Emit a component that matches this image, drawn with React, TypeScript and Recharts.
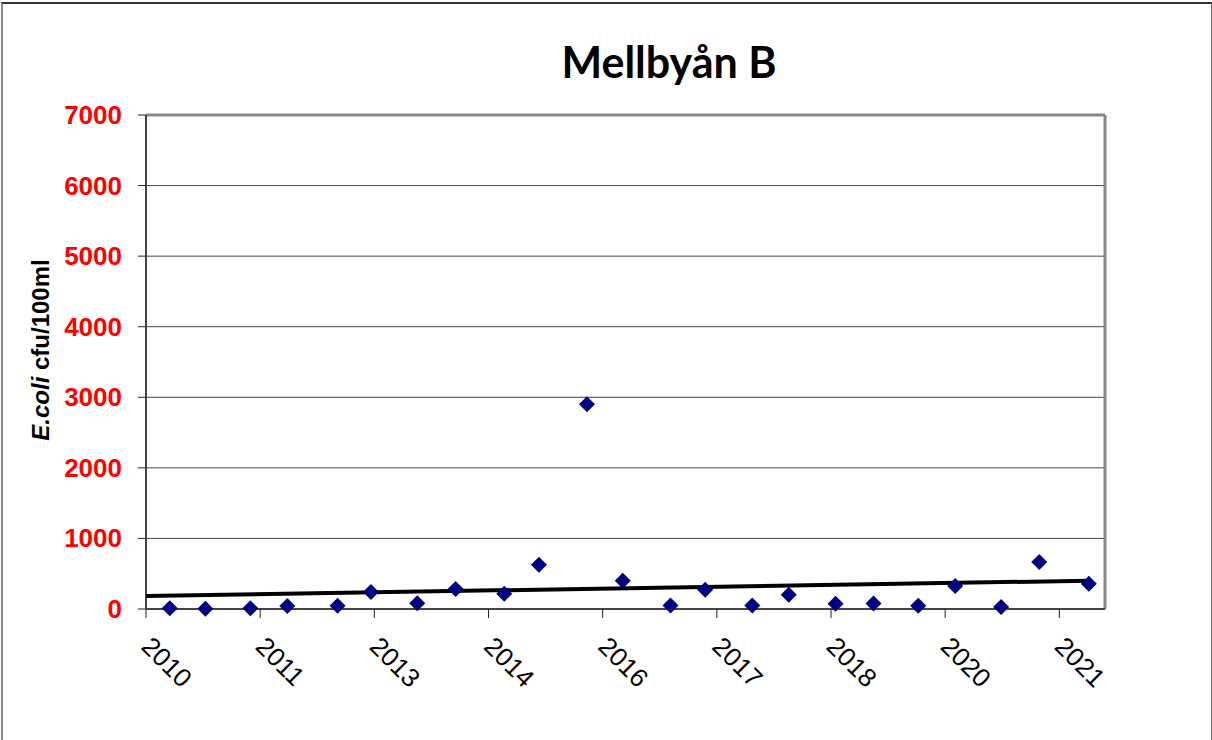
import React from 'react';
import { ScatterChart, Scatter, XAxis, YAxis, CartesianGrid, ReferenceLine } from 'recharts';

// days since start of axis (axis ticks every 500 days)
const sampleDays = [104, 260, 457, 619, 839, 985, 1188, 1356, 1569, 1721, 1931, 2088, 2297, 2449, 2655, 2815, 3020, 3186, 3382, 3544, 3745, 3912, 4129];
const ecoliValues = [10, 3, 10, 42, 47, 240, 80, 283, 217, 627, 2900, 401, 51, 273, 51, 203, 75, 79, 47, 326, 28, 666, 358];

const xTicks = [0, 500, 1000, 1500, 2000, 2500, 3000, 3500, 4000];
const xTickLabels = ['2010', '2011', '2013', '2014', '2016', '2017', '2018', '2020', '2021'];
const yTicks = [0, 1000, 2000, 3000, 4000, 5000, 6000, 7000];

// trendline end points as drawn in the original
const trendDays = [0, 4129];
const trendValues = [184, 401];

const points = sampleDays.map((d, i) => ({ x: d, y: ecoliValues[i] }));
const trend = trendDays.map((d, i) => ({ x: d, y: trendValues[i] }));

const Diamond = (props: any) => {
  const { cx, cy } = props;
  const r = 8;
  return (
    <polygon
      points={`${cx},${cy - r} ${cx + r},${cy} ${cx},${cy + r} ${cx - r},${cy}`}
      fill="#000080"
    />
  );
};

const XTick = (props: any) => {
  const { x, y, payload } = props;
  const idx = xTicks.indexOf(payload.value);
  const bx = x - 6;
  const by = y + 28;
  return (
    <text
      x={bx}
      y={by}
      transform={`rotate(45, ${bx}, ${by})`}
      textAnchor="start"
      fontFamily="Liberation Sans, Arial, sans-serif"
      fontSize={26}
      fill="#000"
    >
      {xTickLabels[idx]}
    </text>
  );
};

const YTick = (props: any) => {
  const { x, y, payload } = props;
  return (
    <text
      x={x}
      y={y}
      dy={9}
      textAnchor="end"
      fontFamily="Liberation Sans, Arial, sans-serif"
      fontSize={26}
      fontWeight="bold"
      fill="#ff0000"
    >
      {payload.value}
    </text>
  );
};

export default function App() {
  return (
    <div style={{ position: 'absolute', left: 0, top: 0, width: 1212, height: 740, background: '#fff' }}>
      <div
        style={{
          position: 'absolute',
          left: 1,
          top: 2,
          width: 1208,
          height: 740,
          borderLeft: '2px solid #888',
          borderTop: '2px solid #333',
          borderRight: '1px solid #666',
        }}
      />
      <div
        style={{
          position: 'absolute',
          left: 669,
          top: 83,
          transform: 'translate(-50%, -100%)',
          fontFamily: 'Lato, sans-serif',
          fontWeight: 'bold',
          fontSize: 43,
          lineHeight: 1,
          whiteSpace: 'nowrap',
        }}
      >
        Mellbyån B
      </div>
      <div
        style={{
          position: 'absolute',
          left: 41,
          top: 350,
          transform: 'translate(-50%, -50%) rotate(-90deg)',
          fontFamily: 'Liberation Sans, Arial, sans-serif',
          fontWeight: 'bold',
          fontSize: 24,
          lineHeight: 1,
          whiteSpace: 'nowrap',
        }}
      >
        <span style={{ fontStyle: 'italic' }}>E.coli</span> cfu/100ml
      </div>
      <div style={{ position: 'absolute', left: 0, top: 0 }}>
        <ScatterChart width={1212} height={740} margin={{ top: 115, right: 107, bottom: 0, left: 0 }}>
          <CartesianGrid horizontal vertical={false} stroke="#444" strokeWidth={1} />
          <XAxis
            type="number"
            dataKey="x"
            domain={[0, 4200]}
            ticks={xTicks}
            interval={0}
            height={131}
            tickSize={9}
            axisLine={{ stroke: '#444', strokeWidth: 2 }}
            tickLine={{ stroke: '#222' }}
            tick={<XTick />}
            allowDataOverflow
          />
          <YAxis
            type="number"
            dataKey="y"
            domain={[0, 7000]}
            ticks={yTicks}
            interval={0}
            width={146}
            tickSize={8}
            tickMargin={16}
            axisLine={{ stroke: '#444', strokeWidth: 2 }}
            tickLine={{ stroke: '#222' }}
            tick={<YTick />}
          />
          <ReferenceLine y={7000} stroke="#888" strokeWidth={3} />
          <ReferenceLine x={4200} stroke="#888" strokeWidth={3} />
          <Scatter
            data={trend}
            line={{ stroke: '#000', strokeWidth: 4 }}
            shape={() => null}
            isAnimationActive={false}
          />
          <Scatter data={points} shape={<Diamond />} isAnimationActive={false} />
        </ScatterChart>
      </div>
    </div>
  );
}
